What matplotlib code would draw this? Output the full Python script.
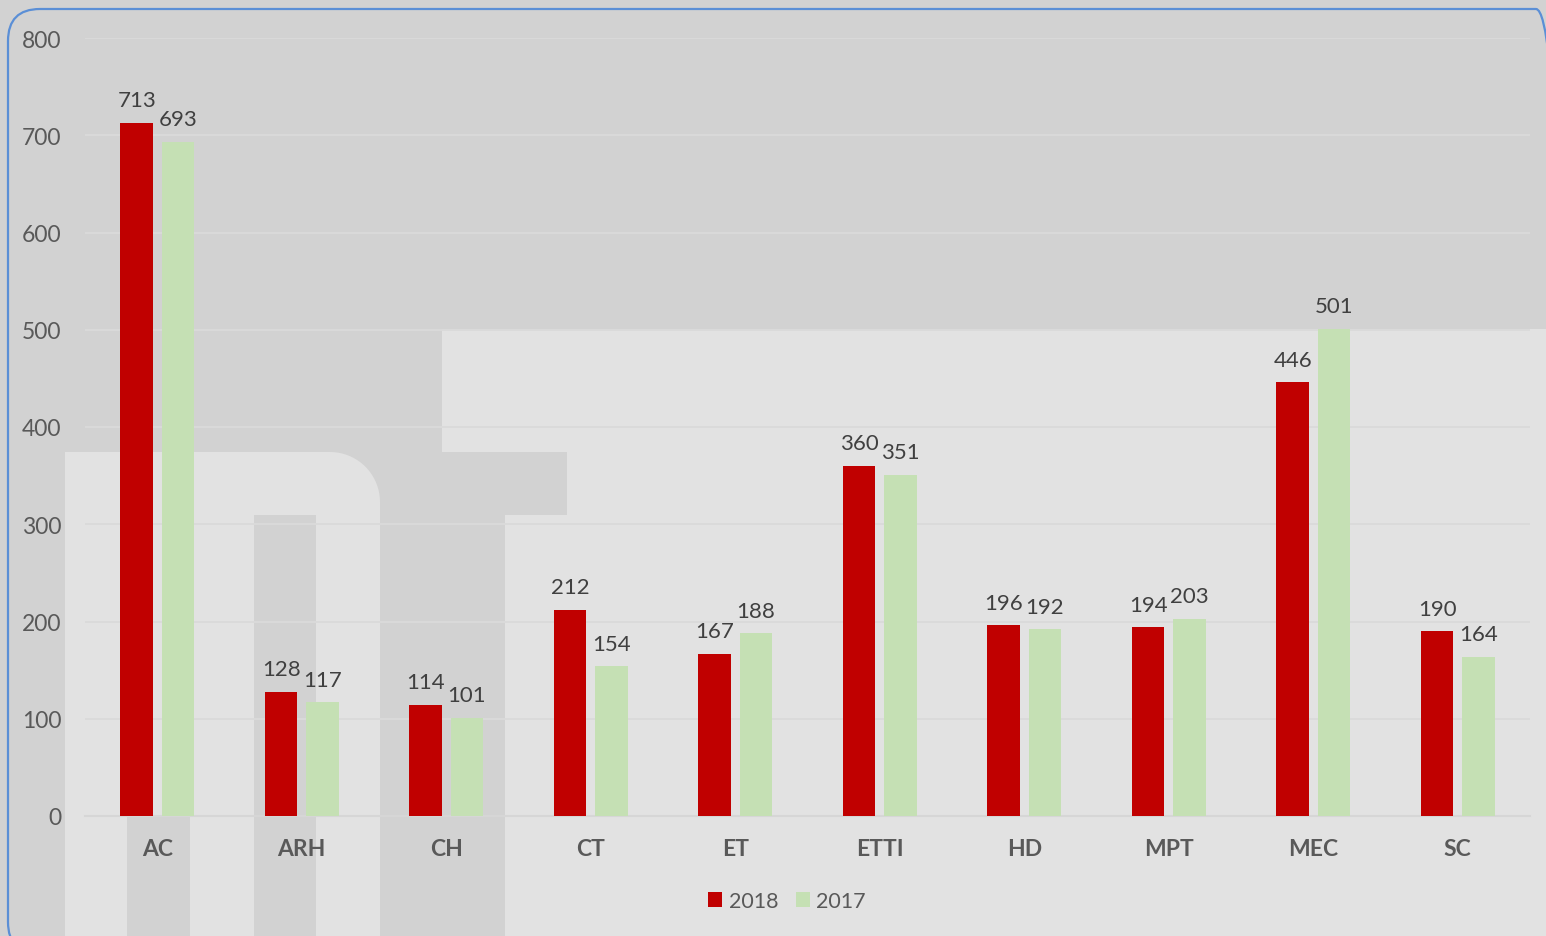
import numpy as np
import matplotlib
matplotlib.use("Agg")
import matplotlib.pyplot as plt
from matplotlib.patches import Polygon, FancyBboxPatch, Patch
from matplotlib.transforms import IdentityTransform

categories = ["AC", "ARH", "CH", "CT", "ET", "ETTI", "HD", "MPT", "MEC", "SC"]
values_2018 = [713, 128, 114, 212, 167, 360, 196, 194, 446, 190]
values_2017 = [693, 117, 101, 154, 188, 351, 192, 203, 501, 164]
series_labels = ["2018", "2017"]
y_ticks = [0, 100, 200, 300, 400, 500, 600, 700, 800]

RED = "#C00000"
GREEN = "#C5E0B4"
DARK_BG = "#d2d2d2"
LIGHT_BG = "#e2e2e2"
TXT = "#595959"
LBL = "#404040"
FS = 16.5

plt.rcParams['font.family'] = ['Lato', 'DejaVu Sans']

W, H = 1546, 937
fig = plt.figure(figsize=(W / 100, H / 100), dpi=100)
fig.patch.set_facecolor(DARK_BG)

ident = IdentityTransform()


def px(points):
    return [(x, H - y) for x, y in points]


def add_poly(points, color):
    fig.add_artist(Polygon(px(points), closed=True, facecolor=color,
                           edgecolor='none', transform=ident, zorder=-5))


# watermark-like background shapes
add_poly([(442, 330), (1560, 330), (1560, 453), (442, 453)], LIGHT_BG)
add_poly([(567, 453), (1560, 453), (1560, 516), (567, 516)], LIGHT_BG)
add_poly([(505, 516), (1560, 516), (1560, 950), (505, 950)], LIGHT_BG)
r = 50
ang = np.linspace(np.pi / 2, 0, 20)
arc = [(380 - r + r * np.cos(a), 453 + r - r * np.sin(a)) for a in ang]
add_poly([(65, 950), (65, 453)] + arc + [(380, 950)], LIGHT_BG)
add_poly([(127, 817), (190, 817), (190, 950), (127, 950)], DARK_BG)
add_poly([(254, 516), (316, 516), (316, 950), (254, 950)], DARK_BG)

# blue rounded frame
fig.add_artist(FancyBboxPatch((8, H - 955), 1560, 945,
                              boxstyle="round,pad=0,rounding_size=32",
                              facecolor='none', edgecolor="#5b8fd6",
                              linewidth=1.6, transform=ident, zorder=20))

ax = fig.add_axes([85 / W, 1 - 817 / H, (1530 - 85) / W, (817 - 39) / H])
ax.set_facecolor('none')

x = np.arange(len(categories))
bw = 0.225
off = 0.142
b1 = ax.bar(x - off, values_2018, bw, color=RED, zorder=3)
b2 = ax.bar(x + off, values_2017, bw, color=GREEN, zorder=3)

for bars, vals in ((b1, values_2018), (b2, values_2017)):
    for rect, v in zip(bars, vals):
        ax.annotate(str(v), (rect.get_x() + rect.get_width() / 2, v),
                    xytext=(0, 12), textcoords='offset points',
                    ha='center', va='baseline', fontsize=16, color=LBL)

ax.set_xlim(-0.5, len(categories) - 0.5)
ax.set_ylim(0, 800)
ax.set_yticks(y_ticks)
ax.set_yticklabels([str(t) for t in y_ticks])
ax.set_xticks(x)
ax.set_xticklabels(categories, fontweight='bold')
ax.tick_params(axis='y', length=0, pad=17, labelsize=FS, labelcolor=TXT)
ax.tick_params(axis='x', length=0, pad=16, labelsize=FS, labelcolor=TXT)
ax.grid(axis='y', color="#dadada", linewidth=1.4, zorder=0)
ax.set_axisbelow(True)
for s in ['top', 'right', 'left']:
    ax.spines[s].set_visible(False)
ax.spines['bottom'].set_color("#d6d6d6")
ax.spines['bottom'].set_linewidth(1.5)

handles = [Patch(facecolor=RED), Patch(facecolor=GREEN)]
fig.legend(handles, series_labels, loc='center',
           bbox_to_anchor=(787 / W, 1 - 902 / H), ncol=2, frameon=False,
           handlelength=0.65, handleheight=0.65, handletextpad=0.3,
           columnspacing=0.8, fontsize=15.5, labelcolor=TXT)

fig.savefig("out.png", dpi=100, facecolor=fig.get_facecolor())
